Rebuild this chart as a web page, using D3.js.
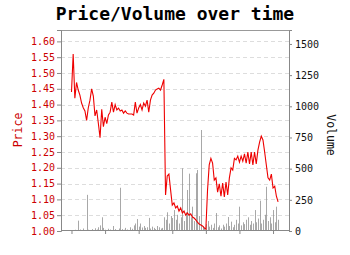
<!DOCTYPE html>
<html><head><meta charset="utf-8">
<script src="https://cdn.jsdelivr.net/npm/d3@7"></script>
<style>html,body{margin:0;padding:0;background:#fff;overflow:hidden}</style>
</head><body>
<script>
const title = "Price/Volume over time";
const priceTicks = [1.00,1.05,1.10,1.15,1.20,1.25,1.30,1.35,1.40,1.45,1.50,1.55,1.60];
const volumeTicks = [0,250,500,750,1000,1250,1500];
const timeTicks = [0,20,40,60,80,100,120];
const price = [
1.44,1.56,1.42,1.47,1.446,1.43,1.405,1.39,1.38,1.35,
1.39,1.414,1.45,1.427,1.364,1.383,1.34,1.295,1.385,1.33,
1.36,1.34,1.367,1.376,1.408,1.376,1.40,1.383,1.389,1.38,
1.383,1.373,1.38,1.373,1.37,1.37,1.37,1.367,1.408,1.373,
1.389,1.40,1.383,1.405,1.395,1.414,1.376,1.414,1.43,1.436,
1.446,1.449,1.452,1.446,1.462,1.48,1.114,1.174,1.18,1.13,
1.082,1.089,1.073,1.079,1.063,1.073,1.057,1.063,1.05,1.057,
1.05,1.054,1.044,1.041,1.035,1.028,1.022,1.019,1.016,1.01,
1.006,1.13,1.209,1.23,1.215,1.161,1.168,1.123,1.149,1.11,
1.152,1.108,1.155,1.114,1.168,1.20,1.193,1.23,1.225,1.237,
1.218,1.237,1.221,1.244,1.215,1.25,1.212,1.25,1.209,1.25,
1.212,1.256,1.281,1.30,1.288,1.25,1.209,1.168,1.161,1.18,
1.136,1.142,1.11,1.092];
const volume = [
5,0,10,8,83,12,4,20,6,290,
10,5,15,8,22,12,30,45,110,25,
10,6,18,12,8,40,15,6,20,347,
15,10,25,12,8,30,18,45,60,96,
35,60,28,40,25,30,105,20,35,25,
15,40,30,20,25,110,90,150,60,120,
104,168,90,130,60,110,503,80,150,329,
460,110,195,80,463,489,120,810,40,30,
55,80,35,50,25,60,144,30,45,20,
50,35,60,112,40,75,30,50,90,60,
195,45,70,55,90,110,50,80,60,168,
70,100,243,60,90,130,355,80,110,60,
168,70,195,90];

const W=350,H=255;
const L=61,R=289.5,T=30,B=231;
const mono='"DejaVu Sans Mono", monospace';
const svg=d3.select("body").append("svg").attr("width",W).attr("height",H)
  .style("font-family",mono);

const x=d3.scaleLinear().domain([-6.25,129.8]).range([L,R]);
const yP=d3.scaleLinear().domain([1,1.636]).range([B,T]);
const yV=d3.scaleLinear().domain([0,1612]).range([B,T]);

// gridlines
svg.append("g").selectAll("line").data(priceTicks.slice(1)).join("line")
  .attr("x1",L).attr("x2",289).attr("y1",d=>Math.round(yP(d))+0.5).attr("y2",d=>Math.round(yP(d))+0.5)
  .attr("stroke","#ddd").attr("stroke-dasharray","4,3");

// top border
svg.append("line").attr("x1",L).attr("x2",290).attr("y1",T+0.5).attr("y2",T+0.5).attr("stroke","#999");

// volume bars
svg.append("g").selectAll("rect").data(volume).join("rect")
  .attr("x",(d,i)=>Math.round(x(i)))
  .attr("width",1)
  .attr("y",d=>yV(d))
  .attr("height",d=>B-yV(d))
  .attr("fill","#999").attr("opacity",0.85);

// price line
svg.append("path").datum(price)
  .attr("fill","none").attr("stroke","#ee0000").attr("stroke-width",1.1)
  .attr("d",d3.line().x((d,i)=>x(i)).y(d=>yP(d)));

// axes
const gl=svg.append("g").attr("transform",`translate(${L},0)`)
  .call(d3.axisLeft(yP).tickValues(priceTicks).tickFormat(d3.format(".2f")).tickSize(4).tickPadding(2));
gl.selectAll("text").attr("fill","#cc0000").style("font-family",mono).style("font-size","10px");
gl.selectAll("line,path").attr("stroke","#888");

const gr=svg.append("g").attr("transform",`translate(289,0)`)
  .call(d3.axisRight(yV).tickValues(volumeTicks).tickFormat(d3.format("d")).tickSize(3).tickPadding(3));
gr.selectAll("text").attr("fill","#111").style("font-family",mono).style("font-size","10px");
gr.selectAll("line,path").attr("stroke","#888");

const gb=svg.append("g").attr("transform",`translate(0,230)`)
  .call(d3.axisBottom(x).tickValues(timeTicks).tickFormat("").tickSize(4).tickSizeOuter(0));
gb.selectAll("line,path").attr("stroke","#888");

// titles
svg.append("text").attr("x",175).attr("y",20).attr("text-anchor","middle")
  .style("font-family",mono).style("font-size","18px").style("font-weight","bold").text(title);
svg.append("text").attr("transform","translate(22,130) rotate(-90)").attr("text-anchor","middle")
  .attr("fill","#cc0000").style("font-size","11.5px").text("Price");
svg.append("text").attr("transform","translate(327,135) rotate(90)").attr("text-anchor","middle")
  .attr("fill","#111").style("font-size","11.5px").text("Volume");
</script>
</body></html>
